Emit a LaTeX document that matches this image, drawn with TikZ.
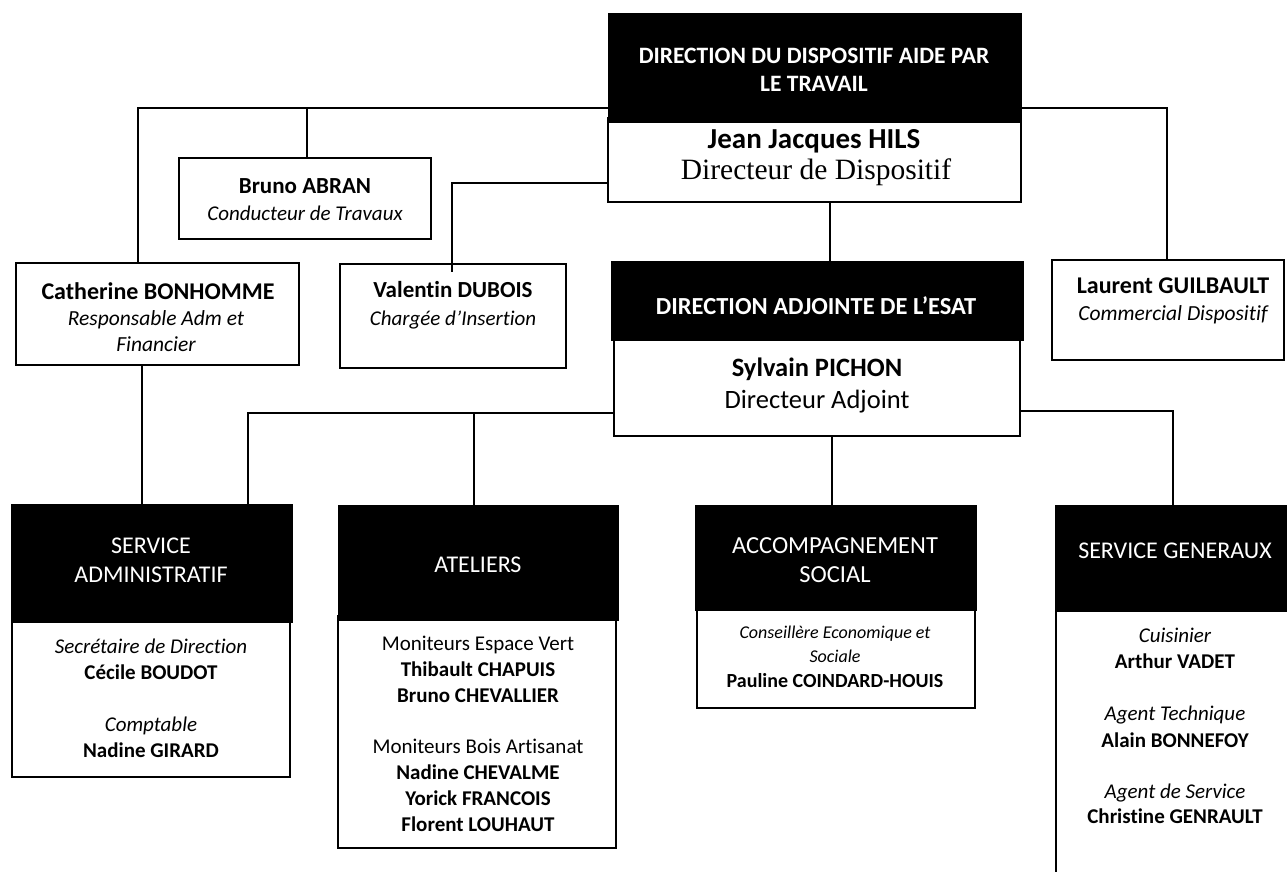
\documentclass[tikz,border=0pt]{standalone}
\usepackage{fontspec}
\setmainfont{Carlito}[Ligatures={NoCommon}]
\newfontfamily\tnr{Liberation Serif}
\newcommand\fs[1]{\fontsize{#1}{#1}\selectfont}
\newcommand\mybox[6]{\node[#1, minimum width={#4-#2}, minimum height={#5-#3}] (#6) at ({(#2+#4)/2},{(#3+#5)/2}) {};}
\tikzset{
  hdr/.style={fill=black, draw=black, line width=0.8pt, inner sep=0pt, rectangle},
  bodybox/.style={fill=white, draw=black, line width=1.6pt, inner sep=0pt, rectangle},
  wire/.style={line width=1.3pt, draw=black},
  txt/.style={anchor=base, inner sep=0pt, text=black},
  wtxt/.style={anchor=base, inner sep=0pt, text=white},
}
\begin{document}
\begin{tikzpicture}[x=1pt,y=-1pt]
\useasboundingbox (0,0) rectangle (1287,872);
\clip (0,0) rectangle (1287,872);
\fill[white] (0,0) rectangle (1287,872);

% ---------- boxes ----------
\mybox{bodybox}{608}{118}{1021}{202}{body1}
\mybox{hdr}{608}{13}{1021}{122}{hdr1}
\mybox{bodybox}{179}{158}{431}{239}{bruno}
\mybox{bodybox}{16}{263}{299}{365}{cath}
\mybox{bodybox}{340}{264}{566}{368}{val}
\mybox{bodybox}{1052}{260}{1284}{360}{laur}
\mybox{bodybox}{614}{336}{1020}{436}{body2}
\mybox{hdr}{611}{261}{1023}{340}{hdr2}
\mybox{bodybox}{12}{618}{290}{777}{bodyA}
\mybox{hdr}{11}{504}{292}{622}{hdrA}
\mybox{bodybox}{338}{616}{616}{848}{bodyB}
\mybox{hdr}{338}{505}{618}{620}{hdrB}
\mybox{bodybox}{697}{606}{975}{708}{bodyC}
\mybox{hdr}{695}{505}{976}{610}{hdrC}
\mybox{bodybox}{1056}{607}{1300}{890}{bodyD}
\mybox{hdr}{1055}{505}{1300}{611}{hdrD}

% ---------- junction coordinates ----------
\coordinate (jL) at (138,108);
\coordinate (jB) at (307,108);
\coordinate (jR) at (1167,108);
\coordinate (jV) at (452,183);
\coordinate (jD) at (830,0);
\coordinate (jA) at (248,413);
\coordinate (jT) at (474,413);
\coordinate (jS) at (1173,411);
\coordinate (jC) at (832,0);
\coordinate (jK) at (142,0);

% ---------- connectors ----------
\draw[wire] (hdr1.west |- jL) -- (jL) -- (jL |- cath.north);
\draw[wire] (jB) -- (jB |- bruno.north);
\draw[wire] (hdr1.east |- jR) -- (jR) -- (jR |- laur.north);
\draw[wire] (body1.west |- jV) -- (jV) -- ([yshift=-9pt]jV |- val.north);
\draw[wire] (jD |- body1.south) -- (jD |- hdr2.north);
\draw[wire] (body2.west |- jA) -- (jA) -- (jA |- hdrA.north);
\draw[wire] (jT) -- (jT |- hdrB.north);
\draw[wire] (body2.east |- jS) -- (jS) -- (jS |- hdrD.north);
\draw[wire] (jC |- body2.south) -- (jC |- hdrC.north);
\draw[wire] (jK |- cath.south) -- (jK |- hdrA.north);

% ---------- texts ----------
\node[wtxt, font=\bfseries\fs{23.5}] (t1a) at (814,64) {DIRECTION DU DISPOSITIF AIDE PAR};
\node[wtxt, font=\bfseries\fs{23.5}] (t1b) at (814,92) {LE TRAVAIL};
\node[txt, font=\bfseries\fs{29}] (t1c) at (814,148) {Jean Jacques HILS};
\node[txt, font=\tnr\fs{29.5}] (t1d) at (816,179) {Directeur de Dispositif};

\node[txt, font=\bfseries\fs{23}] (tb1) at (305,193) {Bruno ABRAN};
\node[txt, font=\itshape\fs{21}] (tb2) at (305,220) {Conducteur de Travaux};

\node[txt, font=\bfseries\fs{24}] (tc1) at (158,299) {Catherine BONHOMME};
\node[txt, font=\itshape\fs{21.5}] (tc2) at (156,325) {Responsable Adm et};
\node[txt, font=\itshape\fs{21.5}] (tc3) at (156,351) {Financier};

\node[txt, font=\bfseries\fs{23}] (tv1) at (453,297) {Valentin DUBOIS};
\node[txt, font=\itshape\fs{21}] (tv2) at (453,325) {Chargée d’Insertion};

\node[txt, font=\bfseries\fs{24}] (tl1) at (1173,293) {Laurent GUILBAULT};
\node[txt, font=\itshape\fs{21.5}] (tl2) at (1173,320) {Commercial Dispositif};

\node[wtxt, font=\bfseries\fs{24.5}] (t2a) at (816,314) {DIRECTION ADJOINTE DE L’ESAT};
\node[txt, font=\bfseries\fs{26.5}] (t2b) at (817,376) {Sylvain PICHON};
\node[txt, font=\fs{26.5}] (t2c) at (817,408) {Directeur Adjoint};

\node[wtxt, font=\fs{24}] (tA1) at (151,553) {SERVICE};
\node[wtxt, font=\fs{24}] (tA2) at (151,582) {ADMINISTRATIF};
\node[txt, font=\itshape\fs{21}] (tA3) at (151,653) {Secrétaire de Direction};
\node[txt, font=\bfseries\fs{21}] (tA4) at (151,679) {Cécile BOUDOT};
\node[txt, font=\itshape\fs{21}] (tA5) at (151,731) {Comptable};
\node[txt, font=\bfseries\fs{21}] (tA6) at (151,757) {Nadine GIRARD};

\node[wtxt, font=\fs{24}] (tB1) at (478,572) {ATELIERS};
\node[txt, font=\fs{21}] (tB2) at (478,650) {Moniteurs Espace Vert};
\node[txt, font=\bfseries\fs{21}] (tB3) at (478,676) {Thibault CHAPUIS};
\node[txt, font=\bfseries\fs{21}] (tB4) at (478,702) {Bruno CHEVALLIER};
\node[txt, font=\fs{21}] (tB5) at (478,753) {Moniteurs Bois Artisanat};
\node[txt, font=\bfseries\fs{21}] (tB6) at (478,779) {Nadine CHEVALME};
\node[txt, font=\bfseries\fs{21}] (tB7) at (478,805) {Yorick FRANCOIS};
\node[txt, font=\bfseries\fs{21}] (tB8) at (478,831) {Florent LOUHAUT};

\node[wtxt, font=\fs{24.5}] (tC1) at (835,553) {ACCOMPAGNEMENT};
\node[wtxt, font=\fs{24.5}] (tC2) at (835,582) {SOCIAL};
\node[txt, font=\itshape\fs{18}] (tC3) at (835,638) {Conseillère Economique et};
\node[txt, font=\itshape\fs{18}] (tC4) at (835,662) {Sociale};
\node[txt, font=\bfseries\fs{20}] (tC5) at (835,687) {Pauline COINDARD-HOUIS};

\node[wtxt, font=\fs{24}] (tD1) at (1175,558) {SERVICE GENERAUX};
\node[txt, font=\itshape\fs{21}] (tD2) at (1175,642) {Cuisinier};
\node[txt, font=\bfseries\fs{21}] (tD3) at (1175,668) {Arthur VADET};
\node[txt, font=\itshape\fs{21}] (tD4) at (1175,720) {Agent Technique};
\node[txt, font=\bfseries\fs{21}] (tD5) at (1175,747) {Alain BONNEFOY};
\node[txt, font=\itshape\fs{21}] (tD6) at (1175,798) {Agent de Service};
\node[txt, font=\bfseries\fs{21}] (tD7) at (1175,823) {Christine GENRAULT};
\end{tikzpicture}
\end{document}
